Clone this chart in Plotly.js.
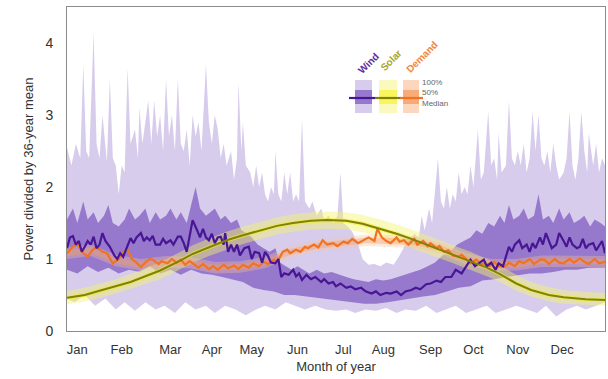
<!DOCTYPE html>
<html>
<head>
<meta charset="utf-8">
<script src="https://cdn.plot.ly/plotly-3.0.1.min.js"></script>
<style>html,body{margin:0;padding:0;background:#fff;}#chart{width:608px;height:379px;}</style>
</head>
<body>
<div id="chart"></div>
<script>
// ---- Data (day of year, value relative to 36-year mean) ----
const monthLabels = ["Jan","Feb","Mar","Apr","May","Jun","Jul","Aug","Sep","Oct","Nov","Dec"];
const monthTickDays = [8,38,71,99,126,157,188,215,247,276,306,336];

// Wind: 100% range (max / min)
const windMaxDays = [1,4,7,10,12,14,16,19,21,23,25,28,30,32,34,36,38,40,42,44,47,49,50,52,54,56,58,60,62,64,66,68,70,72,74,76,78,80,82,84,86,88,90,92,95,97,99,101,103,105,107,109,112,114,116,117,119,120,122,125,127,129,131,133,135,137,139,141,142,144,146,148,150,152,154,156,158,160,162,165,167,170,173,175,178,181,184,186,188,191,194,198,201,205,209,213,217,222,226,230,234,236,239,241,243,246,248,250,252,254,256,258,260,262,264,266,268,270,272,274,276,279,281,283,286,288,290,292,293,295,298,300,302,304,306,308,310,312,314,316,318,320,322,324,326,328,330,332,334,337,339,341,343,345,347,349,351,353,354,357,359,361,363,365];
const windMax = [2.55,2.3,2.6,2.4,3.7,2.5,2.4,4.15,2.6,2.4,3.0,2.35,3.5,2.4,2.3,1.9,2.3,2.2,3.65,2.6,2.8,2.4,3.1,2.6,2.9,3.2,2.6,3.2,2.7,3.0,2.5,3.5,2.7,3.0,2.5,3.5,2.6,2.5,2.8,2.3,3.0,2.7,2.9,2.5,3.7,2.9,2.6,3.0,2.8,2.4,2.6,2.3,2.5,2.1,2.4,3.45,2.5,2.9,2.3,2.2,2.0,2.3,2.0,2.2,1.9,1.8,2.0,1.9,2.5,1.9,1.8,2.2,1.9,2.2,1.8,1.9,1.8,2.95,1.8,1.7,1.8,1.6,1.7,1.55,1.6,1.5,1.6,2.2,1.5,1.45,1.38,1.2,1.0,0.92,0.93,0.9,0.95,0.92,1.05,1.2,1.3,1.35,1.3,1.6,1.4,1.7,1.5,1.9,2.4,1.8,1.7,2.0,1.7,1.9,1.8,2.2,1.9,2.0,1.9,2.3,2.0,2.8,2.1,2.2,3.05,2.3,2.4,2.1,2.75,2.2,2.3,3.2,2.4,2.3,2.5,2.3,2.6,2.2,2.4,3.05,2.5,3.0,2.4,2.3,2.5,2.2,2.6,2.3,2.1,2.2,2.4,3.05,2.3,2.1,2.4,3.05,2.5,2.2,2.75,2.3,2.6,2.2,2.4,2.3];
const windMinDays = [1,6,13,20,27,34,40,47,54,61,67,74,81,88,95,101,108,115,122,129,135,142,149,156,162,169,176,183,190,196,203,210,217,224,230,237,244,251,257,264,271,278,285,291,298,305,312,319,325,332,339,346,352,359,365];
const windMin = [0.45,0.4,0.5,0.35,0.45,0.3,0.4,0.28,0.4,0.3,0.35,0.25,0.4,0.3,0.35,0.25,0.35,0.3,0.22,0.3,0.35,0.3,0.4,0.35,0.3,0.35,0.3,0.28,0.3,0.25,0.3,0.28,0.32,0.25,0.3,0.28,0.35,0.25,0.3,0.35,0.25,0.3,0.35,0.25,0.3,0.35,0.3,0.25,0.35,0.2,0.3,0.35,0.3,0.35,0.4];

// Wind: 50% range (upper / lower quartile)
const windQ3Days = [1,5,8,12,15,19,22,26,29,32,36,40,43,47,50,54,57,61,64,68,71,75,78,82,85,88,91,95,98,101,105,108,112,116,119,123,126,130,134,138,142,145,149,153,157,161,165,170,175,180,185,190,195,200,205,210,215,220,225,230,235,240,245,250,255,260,265,270,274,278,282,286,290,294,297,300,303,307,310,313,317,320,323,327,330,334,337,341,344,348,351,355,358,362,365];
const windQ3 = [1.55,1.7,1.5,1.8,1.55,1.65,1.5,1.6,1.75,1.5,1.45,1.55,1.7,1.55,1.6,1.7,1.5,1.65,1.55,1.6,1.7,1.55,1.65,1.5,1.75,2.0,1.7,1.6,1.65,1.7,1.55,1.6,1.5,1.55,1.4,1.35,1.3,1.2,1.15,1.1,1.15,0.95,0.9,0.85,0.9,0.85,0.8,0.85,0.8,0.82,0.78,0.75,0.72,0.7,0.68,0.72,0.7,0.72,0.75,0.78,0.82,0.85,0.9,0.95,1.05,1.1,1.2,1.25,1.3,1.4,1.35,1.5,1.45,1.6,1.5,1.75,1.55,1.6,1.7,1.55,1.6,1.9,1.55,1.6,1.5,1.7,1.55,1.65,1.5,1.55,1.6,1.45,1.55,1.5,1.45];
const windQ1Days = [1,8,15,22,29,36,43,50,57,64,71,78,85,92,99,106,113,120,127,134,141,148,155,162,170,178,186,194,202,210,218,226,234,242,250,258,266,274,282,290,298,306,314,322,330,338,346,354,365];
const windQ1 = [0.85,0.8,0.9,0.82,0.88,0.8,0.85,0.82,0.9,0.8,0.85,0.78,0.85,0.8,0.78,0.75,0.72,0.68,0.6,0.57,0.55,0.5,0.5,0.48,0.47,0.45,0.42,0.4,0.38,0.38,0.4,0.42,0.45,0.48,0.5,0.55,0.6,0.62,0.7,0.72,0.75,0.78,0.8,0.8,0.82,0.85,0.85,0.88,0.88];

// Wind: median
const windMedDays = [1,3,5,7,9,11,13,15,17,19,21,23,25,27,30,33,35,37,39,42,44,46,48,51,53,55,57,59,61,64,66,68,71,73,76,78,80,82,84,86,89,91,93,95,97,99,101,103,105,107,108,110,112,114,116,118,121,124,126,128,131,133,135,137,139,142,144,146,148,151,154,156,158,160,163,166,169,173,175,178,181,183,186,190,193,196,200,203,207,210,213,217,220,224,227,230,234,237,240,244,247,251,254,257,261,264,268,271,274,277,280,283,285,288,291,293,296,298,300,302,304,307,309,312,314,316,318,321,323,325,327,329,332,334,337,339,341,343,346,348,350,352,354,357,359,361,363,365];
const windMed = [1.15,1.3,1.32,1.2,1.25,1.1,1.17,1.25,1.2,1.31,1.15,1.2,1.36,1.25,1.17,1.05,1.0,1.08,1.03,1.2,1.29,1.22,1.3,1.36,1.25,1.3,1.26,1.32,1.2,1.2,1.28,1.22,1.26,1.2,1.31,1.31,1.22,1.1,1.3,1.54,1.4,1.3,1.42,1.3,1.26,1.35,1.22,1.3,1.31,1.2,1.36,1.1,1.2,1.1,1.2,1.05,1.15,1.17,1.0,1.1,1.08,0.95,1.1,1.04,0.95,0.94,1.0,0.75,0.8,0.78,0.85,0.76,0.8,0.71,0.78,0.72,0.75,0.68,0.72,0.66,0.68,0.62,0.66,0.6,0.62,0.58,0.6,0.55,0.52,0.55,0.5,0.53,0.52,0.55,0.5,0.55,0.57,0.6,0.58,0.65,0.66,0.7,0.68,0.75,0.75,0.85,0.8,0.9,0.99,0.9,0.95,0.99,0.9,0.95,0.85,0.94,0.9,1.05,1.17,1.1,1.2,1.26,1.15,1.2,1.1,1.22,1.15,1.3,1.2,1.36,1.25,1.15,1.2,1.36,1.25,1.17,1.3,1.2,1.15,1.17,1.28,1.15,1.2,1.22,1.12,1.18,1.25,1.08];

// Solar
const solarDays = [1,13,23,34,44,54,64,76,86,98,109,120,132,143,154,166,177,190,201,213,224,234,248,261,274,285,293,305,315,327,337,352,365];
const solarMed = [0.46,0.5,0.56,0.62,0.68,0.76,0.84,0.96,1.07,1.17,1.26,1.33,1.40,1.46,1.50,1.53,1.54,1.53,1.49,1.42,1.35,1.28,1.17,1.07,0.97,0.88,0.8,0.66,0.57,0.5,0.47,0.44,0.43];
const solarMax = [0.56,0.6,0.66,0.72,0.79,0.87,0.96,1.08,1.19,1.29,1.38,1.45,1.52,1.58,1.62,1.65,1.66,1.65,1.61,1.55,1.48,1.41,1.3,1.2,1.1,1.0,0.92,0.78,0.68,0.61,0.57,0.54,0.53];
const solarMin = [0.37,0.41,0.46,0.52,0.58,0.65,0.72,0.84,0.95,1.05,1.13,1.21,1.28,1.34,1.38,1.41,1.42,1.41,1.37,1.3,1.23,1.16,1.05,0.95,0.85,0.76,0.69,0.56,0.48,0.41,0.38,0.36,0.35];
const solarQ3 = [0.49,0.53,0.59,0.65,0.71,0.79,0.87,0.99,1.1,1.2,1.29,1.36,1.43,1.49,1.53,1.56,1.57,1.56,1.52,1.45,1.38,1.31,1.2,1.1,1.0,0.91,0.83,0.69,0.6,0.53,0.5,0.47,0.46];
const solarQ1 = [0.43,0.47,0.53,0.59,0.65,0.73,0.81,0.93,1.04,1.14,1.23,1.3,1.37,1.43,1.47,1.5,1.51,1.5,1.46,1.39,1.32,1.25,1.14,1.04,0.94,0.85,0.77,0.63,0.54,0.47,0.44,0.41,0.4];

// Demand
const demandMedDays = [1,4,8,11,15,18,21,25,28,32,36,38,42,45,48,51,54,57,59,63,65,69,72,75,78,81,84,86,90,93,97,100,103,107,110,114,117,120,124,127,131,134,137,141,143,147,150,152,156,159,162,164,168,171,174,177,181,184,188,191,194,198,202,205,209,211,214,217,220,224,226,229,232,236,238,242,245,247,251,253,256,259,262,266,268,272,274,278,281,284,287,290,293,297,300,304,307,310,314,317,321,324,327,331,334,337,341,344,348,351,354,358,361,365];
const demandMed = [1.08,1.15,1.22,1.1,1.03,1.12,1.17,1.1,1.08,0.94,1.0,1.08,1.13,1.0,0.95,0.89,0.95,1.0,0.99,0.93,0.97,0.94,1.0,0.95,0.99,0.92,0.97,0.94,0.88,0.93,0.86,0.9,0.85,0.92,0.87,0.91,0.86,0.92,0.88,0.94,0.9,0.96,0.93,0.99,0.95,1.1,1.13,1.08,1.13,1.1,1.17,1.15,1.2,1.16,1.26,1.2,1.22,1.18,1.24,1.22,1.28,1.22,1.26,1.3,1.25,1.42,1.3,1.25,1.22,1.3,1.24,1.26,1.2,1.28,1.2,1.25,1.18,1.22,1.15,1.18,1.1,1.12,1.05,1.03,1.06,0.98,0.94,0.99,0.93,0.94,0.9,0.96,0.9,0.89,0.95,0.9,0.97,0.94,1.0,0.93,0.99,0.99,0.93,1.0,0.95,0.94,1.0,0.95,1.01,0.96,0.93,1.0,0.94,0.96];
const demandBandDays = [1,17,34,51,68,84,101,118,135,152,169,186,203,220,237,254,271,288,305,322,339,356,365];
const demandMax = [1.16,1.2,1.06,1.0,1.04,1.03,0.96,0.97,1.03,1.18,1.26,1.3,1.34,1.33,1.31,1.23,1.08,1.0,1.0,1.05,1.05,1.05,1.04];
const demandMin = [1.0,1.04,0.9,0.84,0.88,0.87,0.8,0.81,0.87,1.02,1.1,1.14,1.18,1.17,1.15,1.07,0.92,0.84,0.84,0.89,0.89,0.89,0.88];
const demandQ3 = [1.12,1.16,1.02,0.96,1.0,0.99,0.92,0.93,0.99,1.14,1.22,1.26,1.3,1.29,1.27,1.19,1.04,0.96,0.96,1.01,1.01,1.01,1.0];
const demandQ1 = [1.04,1.08,0.94,0.88,0.92,0.91,0.84,0.85,0.91,1.06,1.14,1.18,1.22,1.21,1.19,1.11,0.96,0.88,0.88,0.93,0.93,0.93,0.92];

// ---- Styles ----
const C = {
  wind100: 'rgb(215,204,236)', wind50: 'rgb(150,121,205)', windLine: 'rgb(72,22,148)',
  solar100: 'rgba(245,245,110,0.45)', solar50: 'rgba(240,240,30,0.6)', solarLine: 'rgb(128,128,10)',
  demand100: 'rgba(250,195,160,0.35)', demand50: 'rgba(245,160,100,0.4)', demandLine: 'rgb(240,115,35)'
};

function band(xu, yu, xl, yl, color) {
  return {
    type: 'scatter', mode: 'lines',
    x: xu.concat(xl.slice().reverse()),
    y: yu.concat(yl.slice().reverse()),
    fill: 'toself', fillcolor: color, line: {width: 0, color: color},
    hoverinfo: 'skip', showlegend: false
  };
}
function line(x, y, color, w) {
  return {type: 'scatter', mode: 'lines', x: x, y: y, line: {color: color, width: w},
          hoverinfo: 'skip', showlegend: false};
}

const traces = [
  band(windMaxDays, windMax, windMinDays, windMin, C.wind100),
  band(windQ3Days, windQ3, windQ1Days, windQ1, C.wind50),
  band(solarDays, solarMax, solarDays, solarMin, C.solar100),
  band(solarDays, solarQ3, solarDays, solarQ1, C.solar50),
  band(demandBandDays, demandMax, demandBandDays, demandMin, C.demand100),
  band(demandBandDays, demandQ3, demandBandDays, demandQ1, C.demand50),
  line(demandMedDays, demandMed, C.demandLine, 2.2),
  line(windMedDays, windMed, C.windLine, 2.2),
  line(solarDays, solarMed, C.solarLine, 2)
];

// ---- Legend inset (paper coordinates) ----
const px = v => (v - 67) / 538, py = v => (331 - v) / 324;
function rect(x0, x1, y0, y1, color) {
  return {type: 'rect', xref: 'paper', yref: 'paper', x0: px(x0), x1: px(x1), y0: py(y1), y1: py(y0),
          fillcolor: color, line: {width: 0}};
}
function hline(x0, x1, y, color) {
  return {type: 'line', xref: 'paper', yref: 'paper', x0: px(x0), x1: px(x1), y0: py(y), y1: py(y),
          line: {color: color, width: 2.2}};
}
const shapes = [
  rect(355, 372, 80, 113, C.wind100), rect(355, 372, 90, 104, C.wind50),
  rect(379, 397, 80, 113, 'rgb(250,250,190)'), rect(379, 397, 90, 104, 'rgb(248,246,90)'),
  rect(403, 419, 80, 113, 'rgb(252,215,190)'), rect(403, 419, 90, 104, 'rgb(248,170,120)'),
  hline(349, 375, 98, C.windLine), hline(375, 401, 98, C.solarLine), hline(400, 423, 98, C.demandLine)
];
const fnt = 'Liberation Sans, Arial, sans-serif';
function ann(text, x, y, opts) {
  return Object.assign({text: text, xref: 'paper', yref: 'paper', x: px(x), y: py(y), showarrow: false,
    xanchor: 'center', yanchor: 'middle', font: {family: fnt, size: 9, color: '#666'}}, opts || {});
}
const annotations = [
  ann('<b>Wind</b>', 368, 63, {textangle: -45, font: {family: fnt, size: 10, color: 'rgb(95,45,165)'}}),
  ann('<b>Solar</b>', 391, 61, {textangle: -45, font: {family: fnt, size: 10, color: 'rgb(165,165,45)'}}),
  ann('<b>Demand</b>', 421, 57, {textangle: -45, font: {family: fnt, size: 10, color: 'rgb(240,135,65)'}}),
  ann('100%<br>50%<br>Median', 420, 93, {xanchor: 'left', align: 'left', font: {family: fnt, size: 8, color: '#666'}})
];

const axisCommon = {
  showgrid: false, zeroline: false, showline: true, mirror: true,
  linecolor: '#8c8c8c', linewidth: 1, ticks: 'outside', tickcolor: 'rgba(0,0,0,0)',
  tickfont: {family: fnt, size: 13, color: '#333'}
};
const layout = {
  width: 608, height: 379,
  margin: {l: 67, r: 3, t: 7, b: 48},
  paper_bgcolor: '#fff', plot_bgcolor: '#fff',
  xaxis: Object.assign({}, axisCommon, {
    range: [1, 365], tickvals: monthTickDays, ticktext: monthLabels, ticklen: 6,
    title: {text: 'Month of year', font: {family: fnt, size: 13, color: '#333'}, standoff: 6}
  }),
  yaxis: Object.assign({}, axisCommon, {
    range: [0, 4.5], tickvals: [0, 1, 2, 3, 4], ticklen: 10,
    tickfont: {family: fnt, size: 14, color: '#333'},
    title: {text: 'Power divided by 36-year mean', font: {family: fnt, size: 13, color: '#333'}, standoff: 8}
  }),
  shapes: shapes, annotations: annotations, showlegend: false
};

Plotly.newPlot('chart', traces, layout, {staticPlot: true, displayModeBar: false});
</script>
</body>
</html>
